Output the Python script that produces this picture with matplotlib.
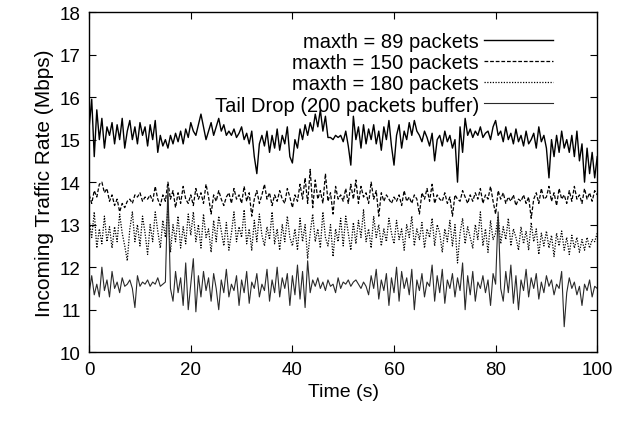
import numpy as np
import matplotlib
matplotlib.use('Agg')
import matplotlib.pyplot as plt

plt.rcParams['font.family'] = ['Liberation Sans', 'DejaVu Sans']

# sampled every 0.5 s, 0 .. 100 s
time = np.arange(201) * 0.5

red_89 = [
    15.3, 15.95, 14.6, 15.7, 15.0, 15.5, 14.8, 15.3, 15.1, 15.4,
    14.9, 15.35, 15.0, 15.5, 14.8, 15.2, 15.45, 15.0, 15.3, 14.9,
    15.4, 15.1, 15.3, 14.85, 15.35, 15.0, 15.45, 14.7, 15.1, 14.85,
    15.0, 14.8, 15.1, 14.9, 15.15, 14.95, 15.2, 14.9, 15.25, 15.05,
    15.4, 15.2, 15.1, 15.35, 15.6, 15.3, 15.0, 15.2, 15.4, 15.1,
    15.3, 15.5, 15.2, 15.35, 15.1, 15.2, 15.1, 15.25, 15.05, 15.15,
    15.3, 15.0, 15.15, 14.9, 15.2, 14.6, 14.2, 14.9, 15.1, 14.85,
    15.2, 14.7, 15.1, 14.8, 15.25, 14.75, 15.1, 14.9, 15.3, 14.6,
    14.45, 15.0, 14.8, 15.25, 15.0, 15.35, 15.1, 15.4, 15.2, 15.6,
    15.3, 15.7, 15.2, 15.55, 15.05, 15.05, 15.0, 15.1, 15.05, 15.1,
    14.95, 15.2, 14.85, 14.4, 15.55, 15.0, 15.3, 14.8, 15.35, 14.9,
    15.25, 15.0, 15.35, 14.9, 15.2, 14.75, 15.3, 15.0, 15.45, 14.85,
    14.4, 15.1, 15.35, 14.8, 15.2, 15.0, 15.4, 15.1, 15.45, 15.2,
    15.1, 14.95, 15.2, 15.05, 14.85, 15.15, 14.5, 15.0, 15.1, 14.85,
    15.2, 14.95, 15.1, 14.8, 15.0, 14.0, 15.3, 14.7, 15.5, 15.1,
    15.25, 15.05, 15.2, 15.1, 15.3, 15.05, 15.15, 15.2, 15.0, 15.3,
    15.45, 15.1, 15.2, 14.95, 15.3, 15.0, 15.15, 14.9, 15.25, 14.95,
    15.1, 14.85, 15.2, 14.9, 15.0, 15.15, 14.8, 15.3, 14.95, 15.1,
    14.8, 14.1, 15.0, 14.6, 15.1, 14.7, 15.2, 14.8, 15.0, 14.7,
    15.1, 14.6, 15.2, 14.5, 14.9, 14.0, 14.8, 14.2, 14.7, 14.1,
    14.6,
]

red_150 = [
    13.7, 13.5, 13.8, 13.65, 13.95, 14.0, 13.75, 13.85, 13.55, 13.7,
    13.45, 13.6, 13.3, 13.5, 13.4, 13.55, 13.6, 13.5, 13.7, 13.65,
    13.75, 13.55, 13.65, 13.6, 13.7, 13.55, 13.9, 13.6, 13.45, 13.7,
    13.55, 14.0, 13.6, 13.8, 13.4, 13.75, 13.5, 13.9, 13.6, 13.5,
    13.7, 13.45, 13.85, 13.6, 13.75, 13.5, 13.95, 13.65, 13.25, 13.7,
    13.55, 13.8, 13.6, 13.45, 13.65, 13.75, 13.5, 13.85, 13.6, 13.7,
    13.5, 13.9, 13.55, 13.75, 13.2, 13.6, 13.8, 13.5, 13.7, 13.95,
    13.6, 13.75, 13.45, 13.7, 13.55, 13.8, 13.6, 13.5, 13.85, 13.65,
    13.4, 13.7, 13.55, 13.95, 13.6, 14.1, 13.5, 14.3, 13.4, 14.05,
    13.6, 13.8, 13.5, 14.2, 13.55, 13.75, 13.25, 13.9, 13.6, 13.7,
    13.55, 13.85, 13.5, 13.95, 13.6, 14.05, 13.5, 13.9, 13.65, 13.75,
    13.5, 14.0, 13.6, 13.8, 13.2, 13.75, 13.55, 13.7, 13.6, 13.5,
    13.65, 13.55, 13.7, 13.45, 13.8, 13.55, 13.65, 13.5, 13.7, 13.6,
    13.25, 13.75, 13.6, 13.85, 13.55, 13.95, 13.5, 13.7, 13.6, 13.55,
    13.75, 13.5, 13.65, 13.2, 13.7, 13.6, 13.55, 13.8, 13.65, 13.5,
    13.7, 13.55, 13.75, 13.6, 13.85, 13.5, 13.7, 13.6, 13.9, 13.55,
    13.25, 13.8, 13.6, 13.75, 13.5, 13.65, 13.55, 13.7, 13.45, 13.6,
    13.55, 13.7, 13.5, 13.65, 13.15, 13.6, 13.75, 13.5, 13.85, 13.6,
    13.65, 13.9, 13.55, 13.75, 13.45, 13.85, 13.6, 13.7, 13.5, 13.8,
    13.55, 13.9, 13.6, 13.7, 13.5, 13.85, 13.6, 13.75, 13.55, 13.8,
    13.7,
]

red_180 = [
    13.1, 12.7, 13.3, 12.45, 12.9, 12.55, 13.2, 12.6, 12.95, 12.45,
    12.95, 12.6, 13.25, 12.8, 12.5, 12.15, 12.9, 13.3, 12.6, 13.0,
    12.5, 13.2, 12.8, 12.3, 13.0, 12.6, 13.3, 12.85, 12.45, 13.1,
    12.7, 13.4, 12.35, 13.0, 12.6, 13.2, 12.45, 12.95, 12.55, 13.25,
    12.75, 13.3, 12.6, 13.0, 12.45, 13.25, 12.7, 12.9, 12.35, 13.1,
    12.6, 13.2, 12.85, 12.5, 13.05, 12.4, 12.8, 13.3, 12.6, 12.95,
    12.7, 13.35, 12.55, 12.9, 12.4, 13.1, 12.6, 13.25, 12.75, 12.5,
    12.95, 12.65, 13.3, 12.55, 12.9, 12.4, 13.0, 12.6, 13.2, 12.7,
    12.5, 12.9, 12.4, 13.15, 12.6, 13.0, 12.2, 12.8, 13.25, 12.6,
    12.9, 12.45, 13.3, 12.7, 12.5, 13.0, 12.25, 12.9, 12.6, 13.15,
    12.5, 13.2, 12.8, 12.4, 13.05, 12.55, 13.1, 12.7, 13.35, 12.6,
    12.9, 12.45, 13.2, 12.7, 13.0, 12.5, 12.9, 12.6, 13.15, 12.8,
    12.55, 13.1, 12.65, 12.9, 12.4, 13.0, 12.7, 13.2, 12.5, 12.9,
    12.65, 13.05, 12.45, 12.9, 12.7, 13.15, 12.5, 13.0, 12.8, 12.35,
    12.9, 12.6, 13.1, 12.5, 13.0, 12.1, 12.8, 13.15, 12.55, 12.95,
    12.7, 12.45, 13.0, 12.65, 13.3, 12.5, 12.9, 12.35, 13.1, 12.65,
    12.8, 13.2, 12.55, 12.95, 12.65, 13.15, 12.5, 12.9, 12.7, 12.4,
    12.95, 12.55, 12.85, 12.4, 13.05, 12.6, 12.9, 12.3, 12.8, 12.5,
    12.85, 12.45, 12.75, 12.25, 12.8, 12.5, 12.85, 12.4, 12.7, 12.3,
    12.75, 12.45, 12.7, 12.35, 12.65, 12.4, 12.7, 12.45, 12.65, 12.6,
    12.8,
]

tail_drop = [
    11.4, 11.8, 11.35, 11.6, 11.3, 12.0, 11.45, 11.7, 11.3, 11.9,
    11.5, 11.65, 11.4, 11.75, 11.55, 11.6, 11.7, 11.5, 11.05, 11.8,
    11.55, 11.65, 11.6, 11.7, 11.55, 11.65, 11.6, 11.75, 11.55, 11.6,
    11.65, 13.9, 11.5, 11.2, 11.9, 11.4, 11.75, 11.1, 12.1, 11.0,
    11.6, 12.2, 10.95, 11.8, 11.3, 11.9, 11.45, 11.75, 11.2, 11.85,
    11.5, 11.0, 11.7, 11.4, 11.95, 11.3, 11.6, 11.45, 11.8, 11.1,
    11.7, 11.4, 11.9, 11.15, 11.65, 11.5, 11.85, 11.3, 11.6, 11.45,
    11.95, 11.2, 11.7, 11.4, 12.0, 11.3, 11.75, 11.5, 11.85, 11.1,
    11.8, 11.35, 12.05, 11.25, 11.9, 11.05, 12.15, 11.4, 11.7, 11.55,
    11.75, 11.5, 11.65, 11.45, 11.7, 11.55, 11.6, 11.4, 11.75, 11.5,
    11.65, 11.6, 11.7, 11.55, 11.65, 11.7, 11.6, 11.5, 11.65, 11.55,
    11.35, 11.8, 11.5, 11.95, 11.25, 11.7, 11.45, 11.85, 11.1, 11.75,
    11.4, 12.0, 11.2, 11.9, 11.5, 11.75, 11.35, 11.95, 11.0, 11.7,
    11.45, 11.85, 11.3, 11.65, 11.55, 12.05, 11.2, 11.8, 11.4, 11.95,
    11.15, 11.7, 11.5, 11.85, 11.3, 11.75, 11.45, 12.1, 11.0, 11.8,
    11.35, 11.9, 11.2, 11.65, 11.5, 11.8, 11.4, 11.7, 11.1, 11.85,
    11.6, 13.3, 11.5, 11.2, 11.9, 11.4, 12.05, 11.15, 11.8, 11.0,
    11.7, 11.45, 11.95, 11.3, 11.75, 11.5, 11.85, 11.25, 11.65, 11.4,
    11.8, 11.55, 11.7, 11.35, 11.6, 11.5, 11.9, 10.6, 11.4, 11.75,
    11.5, 11.65, 11.35, 11.55, 11.1, 11.6, 11.45, 11.7, 11.3, 11.55,
    11.5,
]

labels = ['maxth = 89 packets', 'maxth = 150 packets', 'maxth = 180 packets',
          'Tail Drop (200 packets buffer)']

fig = plt.figure(figsize=(6.28, 4.35), dpi=100)
ax = fig.add_axes([0.142, 0.188, 0.809, 0.782])

ax.plot(time, red_89, color='black', lw=1.0, label=labels[0])
ax.plot(time, red_150, color='black', lw=0.9, ls=(0, (3, 1.5)), label=labels[1])
ax.plot(time, red_180, color='black', lw=0.9, ls=(0, (1, 1.2)), label=labels[2])
ax.plot(time, tail_drop, color='#2a2a2a', lw=0.8, label=labels[3])

ax.set_xlim(0, 100)
ax.set_ylim(10, 18)
ax.set_xticks(range(0, 101, 20))
ax.set_yticks(range(10, 19))
ax.tick_params(direction='in', top=True, right=True, length=5, width=0.8,
               labelsize=13.5, pad=6)
for s in ax.spines.values():
    s.set_linewidth(1.0)

ax.set_xlabel('Time (s)', fontsize=14, labelpad=4)
ax.set_ylabel('Incoming Traffic Rate (Mbps)', fontsize=15, labelpad=4)

ax.legend(loc='upper right', bbox_to_anchor=(0.912, 0.94), frameon=False,
          markerfirst=False, fontsize=14.5, handlelength=3.4, handletextpad=0.25,
          labelspacing=0.1, borderpad=0, borderaxespad=0)

fig.savefig('out.png', dpi=100)
